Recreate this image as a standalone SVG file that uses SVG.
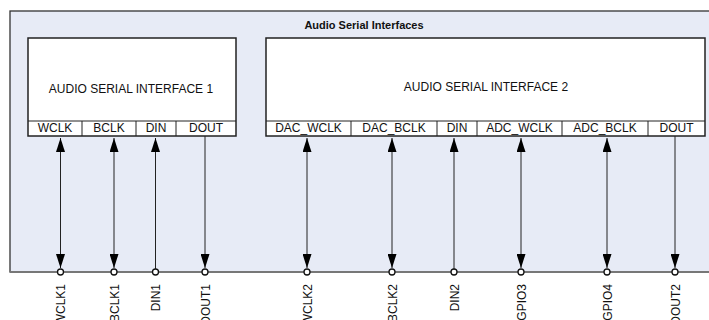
<svg xmlns="http://www.w3.org/2000/svg" width="709" height="320" viewBox="0 0 709 320">
<defs>
<marker id="ah" viewBox="0 0 10 10" refX="10" refY="5" markerWidth="14" markerHeight="9" markerUnits="userSpaceOnUse" orient="auto-start-reverse" preserveAspectRatio="none">
<path d="M0,0 L10,5 L0,10 Z" fill="#000"/>
</marker>
<style>
text{font-family:"Liberation Sans",Arial,sans-serif;fill:#111}
.box{fill:#fff;stroke:#222;stroke-width:1.5}
.pin{font-size:12px;text-anchor:middle}
.big{font-size:12px;text-anchor:middle}
.lbl{font-size:12px;text-anchor:end}
.wire{stroke:#222;stroke-width:1;fill:none}
.pt{fill:#fff;stroke:#111;stroke-width:1.3}
</style>
</defs>
<rect x="10" y="11" width="710" height="261" fill="#e7ebf6" stroke="#333" stroke-width="1.3"/>
<line x1="10" y1="272" x2="709" y2="272" stroke="#777" stroke-width="2"/>
<text x="364" y="29" style="font-size:11px;font-weight:bold;text-anchor:middle">Audio Serial Interfaces</text>

<g id="asi1">
<rect class="box" x="28" y="38" width="208" height="98"/>
<line class="wire" x1="28" y1="121" x2="236" y2="121" stroke-width="1.5"/>
<line class="wire" x1="82" y1="121" x2="82" y2="136" stroke-width="1.5"/>
<line class="wire" x1="136" y1="121" x2="136" y2="136" stroke-width="1.5"/>
<line class="wire" x1="176" y1="121" x2="176" y2="136" stroke-width="1.5"/>
<text class="big" x="131" y="93">AUDIO SERIAL INTERFACE 1</text>
<text class="pin" x="55" y="132">WCLK</text>
<text class="pin" x="109" y="132">BCLK</text>
<text class="pin" x="156" y="132">DIN</text>
<text class="pin" x="206" y="132">DOUT</text>
</g>

<g id="asi2">
<rect class="box" x="266" y="38" width="439" height="98"/>
<line class="wire" x1="266" y1="121" x2="705" y2="121" stroke-width="1.5"/>
<line class="wire" x1="351" y1="121" x2="351" y2="136" stroke-width="1.5"/>
<line class="wire" x1="437" y1="121" x2="437" y2="136" stroke-width="1.5"/>
<line class="wire" x1="477" y1="121" x2="477" y2="136" stroke-width="1.5"/>
<line class="wire" x1="562" y1="121" x2="562" y2="136" stroke-width="1.5"/>
<line class="wire" x1="648" y1="121" x2="648" y2="136" stroke-width="1.5"/>
<text class="big" x="486" y="91">AUDIO SERIAL INTERFACE 2</text>
<text class="pin" x="308.5" y="132">DAC_WCLK</text>
<text class="pin" x="394" y="132">DAC_BCLK</text>
<text class="pin" x="457" y="132">DIN</text>
<text class="pin" x="519.5" y="132">ADC_WCLK</text>
<text class="pin" x="605" y="132">ADC_BCLK</text>
<text class="pin" x="676.5" y="132">DOUT</text>
</g>

<g id="connectors">
<line class="wire" x1="60.5" y1="138" x2="60.5" y2="268" marker-start="url(#ah)" marker-end="url(#ah)"/>
<line class="wire" x1="114" y1="138" x2="114" y2="268" marker-start="url(#ah)" marker-end="url(#ah)"/>
<line class="wire" x1="155.5" y1="138" x2="155.5" y2="269" marker-start="url(#ah)"/>
<line class="wire" x1="205" y1="136" x2="205" y2="268" marker-end="url(#ah)"/>
<line class="wire" x1="307" y1="138" x2="307" y2="268" marker-start="url(#ah)" marker-end="url(#ah)"/>
<line class="wire" x1="392" y1="138" x2="392" y2="268" marker-start="url(#ah)" marker-end="url(#ah)"/>
<line class="wire" x1="454" y1="138" x2="454" y2="269" marker-start="url(#ah)"/>
<line class="wire" x1="521" y1="138" x2="521" y2="268" marker-start="url(#ah)" marker-end="url(#ah)"/>
<line class="wire" x1="607" y1="138" x2="607" y2="268" marker-start="url(#ah)" marker-end="url(#ah)"/>
<line class="wire" x1="675" y1="136" x2="675" y2="268" marker-end="url(#ah)"/>
</g>

<g id="pins">
<circle class="pt" cx="60.5" cy="272" r="3"/>
<circle class="pt" cx="114" cy="272" r="3"/>
<circle class="pt" cx="155.5" cy="272" r="3"/>
<circle class="pt" cx="205" cy="272" r="3"/>
<circle class="pt" cx="307" cy="272" r="3"/>
<circle class="pt" cx="392" cy="272" r="3"/>
<circle class="pt" cx="454" cy="272" r="3"/>
<circle class="pt" cx="521" cy="272" r="3"/>
<circle class="pt" cx="607" cy="272" r="3"/>
<circle class="pt" cx="675" cy="272" r="3"/>
<text class="lbl" transform="translate(65,284) rotate(-90)">WCLK1</text>
<text class="lbl" transform="translate(118.5,284) rotate(-90)">BCLK1</text>
<text class="lbl" transform="translate(159.5,284) rotate(-90)">DIN1</text>
<text class="lbl" transform="translate(209.5,284) rotate(-90)">DOUT1</text>
<text class="lbl" transform="translate(311.5,284) rotate(-90)">WCLK2</text>
<text class="lbl" transform="translate(396.5,284) rotate(-90)">BCLK2</text>
<text class="lbl" transform="translate(458.5,284) rotate(-90)">DIN2</text>
<text class="lbl" transform="translate(525.5,284) rotate(-90)">GPIO3</text>
<text class="lbl" transform="translate(611.5,284) rotate(-90)">GPIO4</text>
<text class="lbl" transform="translate(679.5,284) rotate(-90)">DOUT2</text>
</g>
</svg>
